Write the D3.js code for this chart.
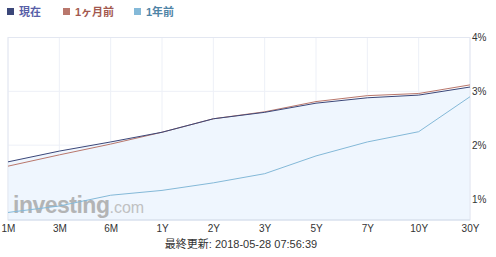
<!DOCTYPE html>
<meta charset="utf-8">
<style>
body { margin: 0; background: #fff; }
* { font-family: Arial, "Liberation Sans", "Noto Sans CJK JP", sans-serif; }
.tick text { font-size: 10px; fill: #333; }
</style>
<body>
<script src="https://d3js.org/d3.v7.min.js"></script>
<script>
var categories = ["1M", "3M", "6M", "1Y", "2Y", "3Y", "5Y", "7Y", "10Y", "30Y"];
var current   = [1.69, 1.89, 2.06, 2.24, 2.49, 2.61, 2.78, 2.88, 2.93, 3.08];
var monthAgo  = [1.61, 1.82, 2.02, 2.24, 2.49, 2.62, 2.81, 2.92, 2.96, 3.12];
var yearAgo   = [0.75, 0.87, 1.07, 1.16, 1.30, 1.47, 1.80, 2.06, 2.25, 2.90];
var yTicks = [1, 2, 3, 4];
var seriesNames = ["現在", "1ヶ月前", "1年前"];
var updated = "最終更新: 2018-05-28 07:56:39";

var width = 496, height = 257;
var plot = {left: 8, right: 470, top: 37.5, bottom: 220};

var svg = d3.select("body").append("svg")
    .attr("width", width)
    .attr("height", height);

var x = d3.scalePoint()
    .domain(categories)
    .range([plot.left, plot.right]);

var y = d3.scaleLinear()
    .domain([0.61, 4])
    .range([plot.bottom, plot.top]);

// grid
var grid = svg.append("g");
grid.selectAll(".vg")
    .data(categories)
  .enter().append("line")
    .attr("x1", function(d) { return x(d); })
    .attr("x2", function(d) { return x(d); })
    .attr("y1", plot.top)
    .attr("y2", plot.bottom)
    .style("stroke", "#edf0f7");
grid.selectAll(".hg")
    .data(yTicks)
  .enter().append("line")
    .attr("x1", plot.left)
    .attr("x2", plot.right)
    .attr("y1", function(d) { return y(d); })
    .attr("y2", function(d) { return y(d); })
    .style("stroke", "#edf0f7");

// area under current
var area = d3.area()
    .x(function(d, i) { return x(categories[i]); })
    .y0(plot.bottom)
    .y1(function(d) { return y(d); });

svg.append("path")
    .datum(current)
    .attr("d", area)
    .style("fill", "#eff6fe");

// watermark
var wm = svg.append("text")
    .attr("x", 13)
    .attr("y", 213)
    .style("fill", "#a9a9a9")
    .style("opacity", 0.85);
wm.append("tspan")
    .style("font-size", "23px")
    .style("font-weight", "bold")
    .style("letter-spacing", "-0.5px")
    .text("investing");
wm.append("tspan")
    .style("font-size", "16px")
    .style("fill", "#b8b8b8")
    .text(".com");

// border
svg.append("rect")
    .attr("x", plot.left)
    .attr("y", plot.top)
    .attr("width", plot.right - plot.left)
    .attr("height", plot.bottom - plot.top)
    .style("fill", "none")
    .style("stroke", "#e3e7f1");
svg.append("line")
    .attr("x1", plot.left).attr("x2", plot.right)
    .attr("y1", plot.bottom).attr("y2", plot.bottom)
    .style("stroke", "#d3deeb");

var line = d3.line()
    .x(function(d, i) { return x(categories[i]); })
    .y(function(d) { return y(d); });

var colors = ["#3b4779", "#b9776c", "#84b9d8"];
[yearAgo, monthAgo, current].forEach(function(s, k) {
  var c = [colors[2], colors[1], colors[0]][k];
  svg.append("path")
      .datum(s)
      .attr("d", line)
      .style("fill", "none")
      .style("stroke", c)
      .style("stroke-width", 1);
});

// axes
var xAxis = svg.append("g")
    .attr("transform", "translate(0," + plot.bottom + ")")
    .call(d3.axisBottom(x).tickSize(0).tickPadding(5));
xAxis.select(".domain").remove();

var yAxis = svg.append("g")
    .attr("transform", "translate(" + (plot.right + 2) + ",0)")
    .call(d3.axisRight(y).tickValues(yTicks).tickSize(0).tickPadding(0)
      .tickFormat(function(d) { return d + "%"; }));
yAxis.select(".domain").remove();

// legend
var legendX = [7, 63, 134];
var textColors = ["#5860a8", "#a3594f", "#4f84a6"];
var lg = svg.selectAll(".lg")
    .data(seriesNames)
  .enter().append("g")
    .attr("transform", function(d, i) { return "translate(" + legendX[i] + ",0)"; });
lg.append("rect")
    .attr("x", 0).attr("y", 8)
    .attr("width", 7).attr("height", 7)
    .style("fill", function(d, i) { return colors[i]; });
lg.append("text")
    .attr("x", 12)
    .attr("y", 16)
    .style("font-size", "11px")
    .style("font-weight", "bold")
    .style("fill", function(d, i) { return textColors[i]; })
    .text(function(d) { return d; });

svg.append("text")
    .attr("x", 241)
    .attr("y", 248)
    .attr("text-anchor", "middle")
    .style("font-size", "11px")
    .style("fill", "#333")
    .text(updated);
</script>
</body>
